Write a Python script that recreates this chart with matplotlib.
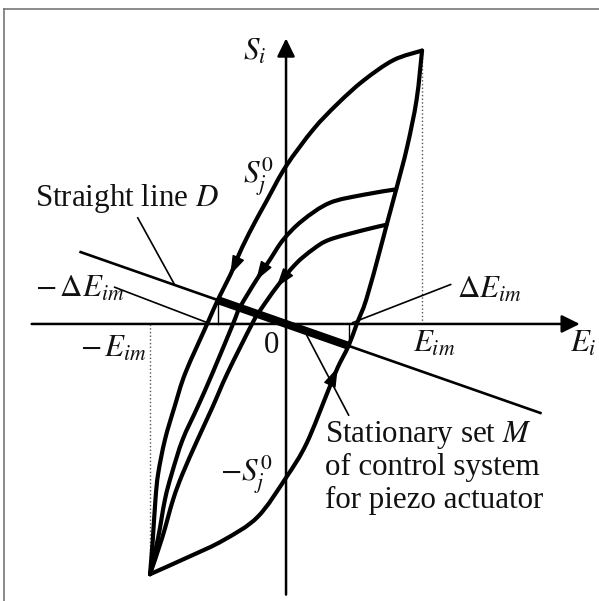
import matplotlib
matplotlib.use('Agg')
import matplotlib.pyplot as plt
import numpy as np
from matplotlib.lines import Line2D
from matplotlib.path import Path
from matplotlib.patches import PathPatch

# values in units of E_im (field) and the same scale for strain
E_IM = 1.0
S_TOP = 2.01
S_BOT = -1.84
D_SLOPE = -0.35          # straight line D: S = D_SLOPE * E
D_RANGE = [-1.51, 1.87]
M_RANGE = [-0.50, 0.46]  # stationary set M on D

# outer loop, descending branch (from +E_im down to -E_im)
desc_E = [1.00, 0.79, 0.57, 0.38, 0.20, 0.00, -0.14, -0.27, -0.36, -0.41, -0.50,
          -0.58, -0.74, -0.82, -0.89, -0.94, -0.96, -0.98, -1.00]
desc_S = [2.01, 1.94, 1.79, 1.62, 1.43, 1.16, 0.91, 0.67, 0.48, 0.36, 0.18,
          0.00, -0.36, -0.61, -0.85, -1.10, -1.29, -1.59, -1.84]

# outer loop, ascending branch (from -E_im up to +E_im)
asc_E = [-1.00, -0.71, -0.46, -0.21, 0.00, 0.15, 0.31, 0.38, 0.46, 0.52, 0.59,
         0.69, 0.74, 0.81, 0.89, 0.96, 1.00]
asc_S = [-1.84, -1.71, -1.59, -1.42, -1.13, -0.88, -0.49, -0.32, -0.16, 0.00, 0.18,
         0.54, 0.73, 0.99, 1.30, 1.65, 2.01]

# inner descending branches (minor loops)
in1_E = [0.81, 0.57, 0.32, 0.12, -0.02, -0.12, -0.22, -0.34, -0.39, -0.54, -0.65,
         -0.76, -0.84, -0.89, -0.94, -1.00]
in1_S = [0.99, 0.95, 0.89, 0.76, 0.62, 0.47, 0.32, 0.12, 0.00, -0.36, -0.61,
         -0.85, -1.10, -1.29, -1.57, -1.84]
in2_E = [0.74, 0.57, 0.32, 0.20, 0.07, -0.07, -0.19, -0.25, -0.43, -0.54, -0.65,
         -0.76, -0.83, -0.91, -1.00]
in2_S = [0.73, 0.69, 0.62, 0.55, 0.44, 0.27, 0.10, 0.00, -0.36, -0.61, -0.85,
         -1.10, -1.29, -1.57, -1.84]

FS = 22.3
plt.rcParams['font.family'] = ['Liberation Serif', 'DejaVu Serif']
plt.rcParams['mathtext.fontset'] = 'stix'

fig = plt.figure(figsize=(5.99, 6.01), dpi=100)
ax = fig.add_axes([0, 0, 1, 1])
ax.set_xlim(-2.103, 2.301)
ax.set_ylim(-2.037, 2.382)
ax.axis('off')

# frame (only top and left edges are inside the picture)
fig.add_artist(Line2D([4 / 599, 1], [1 - 9 / 601, 1 - 9 / 601], transform=fig.transFigure,
                      color='#777777', lw=1.2))
fig.add_artist(Line2D([4 / 599, 4 / 599], [0, 1 - 9 / 601], transform=fig.transFigure,
                      color='#777777', lw=1.2))

# coordinate axes with arrows
ax_style = dict(arrowstyle='-|>,head_length=0.55,head_width=0.27', mutation_scale=20,
                color='k', lw=1.8, shrinkA=0, shrinkB=0)
ax.annotate('', xy=(2.16, 0), xytext=(-1.87, 0), arrowprops=ax_style)
ax.annotate('', xy=(0, 2.10), xytext=(0, -1.99), arrowprops=ax_style)

# dotted guides at +/- E_im
ax.plot([E_IM, E_IM], [0, S_TOP], ls=':', color='#555555', lw=1.0)
ax.plot([-E_IM, -E_IM], [0, S_BOT], ls=':', color='#555555', lw=1.0)


def smooth_path(xs, ys):
    # bezier curve through the read points (catmull-rom handles)
    pts = np.column_stack([xs, ys])
    verts = [pts[0]]
    codes = [Path.MOVETO]
    for i in range(len(pts) - 1):
        p0 = pts[i - 1] if i > 0 else pts[i]
        p1 = pts[i]
        p2 = pts[i + 1]
        p3 = pts[i + 2] if i + 2 < len(pts) else pts[i + 1]
        verts += [p1 + (p2 - p0) / 6, p2 - (p3 - p1) / 6, p2]
        codes += [Path.CURVE4] * 3
    return Path(verts, codes)


# hysteresis curves
for xs, ys in [(desc_E, desc_S), (asc_E, asc_S), (in1_E, in1_S), (in2_E, in2_S)]:
    ax.add_patch(PathPatch(smooth_path(xs, ys), fill=False, ec='k', lw=3.0,
                           joinstyle='round', capstyle='round', zorder=3))


def head_on(xs, ys, i):
    dx = xs[i + 1] - xs[i - 1]
    dy = ys[i + 1] - ys[i - 1]
    n = np.hypot(dx, dy)
    tail = (xs[i] - 0.12 * dx / n, ys[i] - 0.12 * dy / n)
    ax.annotate('', xy=(xs[i], ys[i]), xytext=tail, zorder=4,
                arrowprops=dict(arrowstyle='-|>,head_length=0.6,head_width=0.2',
                                mutation_scale=20, color='k', lw=1,
                                shrinkA=0, shrinkB=0))


head_on(desc_E, desc_S, 9)
head_on(in1_E, in1_S, 6)
head_on(in2_E, in2_S, 5)
head_on(asc_E, asc_S, 7)

# straight line D and stationary set M
ax.plot(D_RANGE, [D_SLOPE * e for e in D_RANGE], color='k', lw=1.9, zorder=2)
ax.plot(M_RANGE, [D_SLOPE * e for e in M_RANGE], color='k', lw=5.8,
        solid_capstyle='butt', zorder=5)

# small ticks marking delta E_im
ax.plot([M_RANGE[0], M_RANGE[0]], [0, D_SLOPE * M_RANGE[0]], color='k', lw=1.0)
ax.plot([M_RANGE[1], M_RANGE[1]], [0, D_SLOPE * M_RANGE[1]], color='k', lw=1.0)

# leader lines
thin = dict(color='k', lw=1.2)
ax.plot([-1.09, -0.82], [0.78, 0.29], **thin)
ax.plot([-1.26, -0.58], [0.27, 0.01], **thin)
ax.plot([1.21, 0.49], [0.29, 0.01], **thin)
ax.plot([0.14, 0.46], [-0.06, -0.67], **thin)

# labels
tk = dict(fontsize=FS, color='#111111', va='baseline')
ax.text(-1.846, 0.868, 'Straight line $D$', ha='left', **tk)
ax.text(-1.846, 0.199, r'$-\,\Delta E_{im}$', ha='left', **tk)
ax.text(1.257, 0.191, r'$\Delta E_{im}$', ha='left', **tk)
ax.text(-1.515, -0.243, r'$-\,E_{im}$', ha='left', **tk)
ax.text(0.934, -0.206, r'$E_{im}$', ha='left', **tk)
ax.text(2.09, -0.206, r'$E_i$', ha='left', **tk)
ax.text(-0.107, -0.213, '0', ha='center', **tk)
ax.text(-0.316, 1.941, r'$S_i$', ha='left', **tk)
ax.text(-0.316, 1.03, r'$S_j^0$', ha='left', **tk)
ax.text(-0.485, -1.162, r'$-S_j^0$', ha='left', **tk)
ax.text(0.287, -0.868, 'Stationary set $M$', ha='left', **tk)
ax.text(0.287, -1.110, 'of control system', ha='left', **tk)
ax.text(0.287, -1.353, 'for piezo actuator', ha='left', **tk)

fig.savefig('out.png', dpi=100)
